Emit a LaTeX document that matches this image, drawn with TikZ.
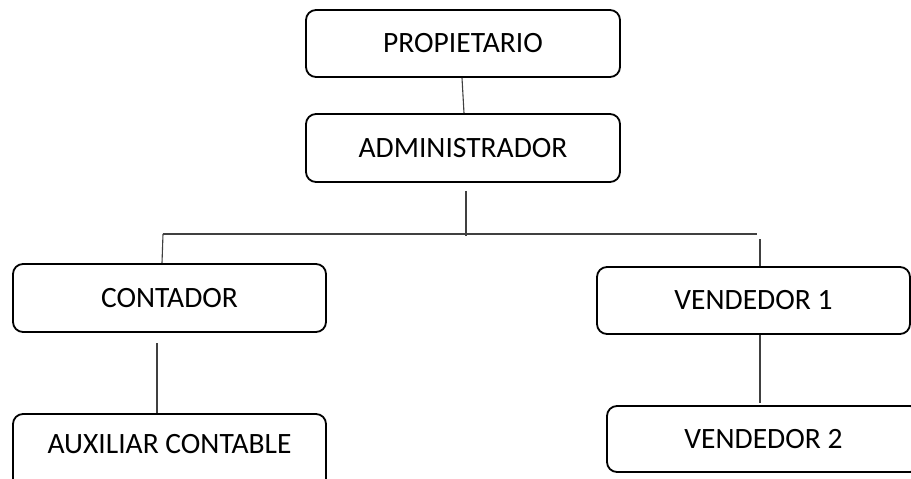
\documentclass[tikz,border=0pt]{standalone}
\usepackage{fontspec}
\setmainfont{Carlito}
\usetikzlibrary{calc}
\begin{document}
\begin{tikzpicture}[x=1pt,y=-1pt,
  box/.style={draw=black,line width=1.8pt,rounded corners=10pt,fill=white,
    inner sep=0pt,font=\fontsize{29.5}{35}\selectfont},
  link/.style={draw=black!75,line width=1.1pt}]
\useasboundingbox (0,0) rectangle (911,479);
\clip (0,0) rectangle (911,479);
\fill[white] (0,0) rectangle (911,479);
\node[box,minimum width=314pt,minimum height=67pt] (prop) at (463,43.5) {PROPIETARIO};
\node[box,minimum width=314pt,minimum height=68pt] (adm) at (463,148) {ADMINISTRADOR};
\node[box,minimum width=313pt,minimum height=68pt] (cont) at (169.5,298) {CONTADOR};
\node[box,minimum width=313pt,minimum height=90pt] (aux) at (169.5,459) {\raisebox{31pt}{AUXILIAR CONTABLE}};
\node[box,minimum width=313pt,minimum height=67pt] (v1) at (753.5,300.5) {VENDEDOR 1};
\node[box,minimum width=313pt,minimum height=66pt] (v2) at (763.5,439) {VENDEDOR 2};
% connectors
\draw[link] ($(prop.south)+(-1,0)$) -- ($(adm.north)+(1,0)$);
\coordinate (admlow) at (466,236);
\coordinate (hl) at (163,234);
\coordinate (hr) at (757,234);
\draw[link] ($(adm.south)+(3,8)$) -- (admlow);
\draw[link] (hl) -- (hr);
\draw[link] (hl) -- (162,263) coordinate (cl);
\draw[link] (760,239) -- (v1.north -| 760,0);
\draw[link] (157,343) -- (aux.north -| 157,0);
\draw[link] (v1.south -| 760,0) -- (760,403);
\end{tikzpicture}
\end{document}
